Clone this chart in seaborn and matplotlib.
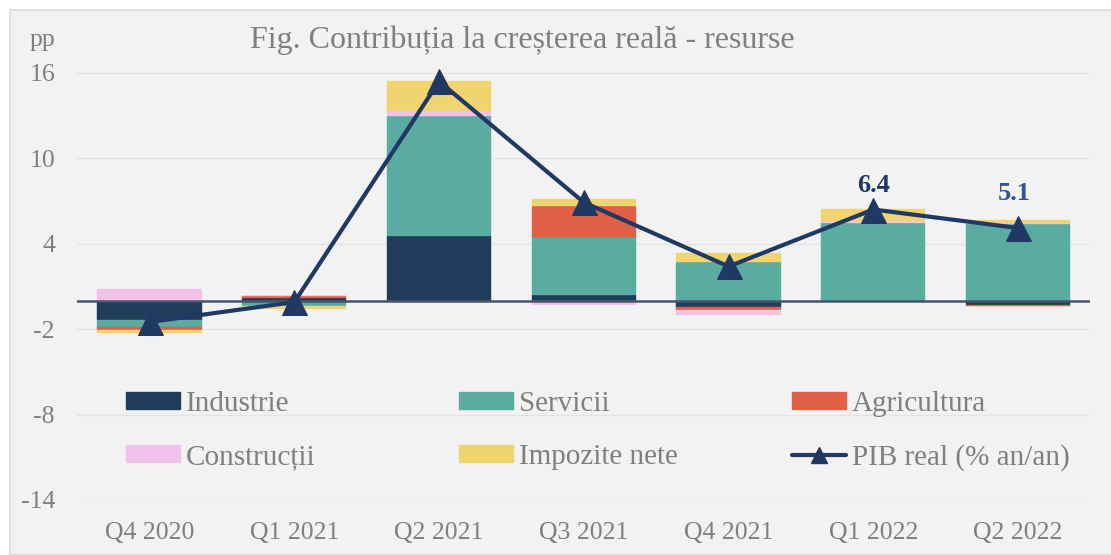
import numpy as np
import matplotlib
matplotlib.use("Agg")
import matplotlib.pyplot as plt
from matplotlib.patches import Patch, Rectangle
from matplotlib.lines import Line2D
import seaborn as sns

# Date (pp)
trimestre = ["Q4 2020", "Q1 2021", "Q2 2021", "Q3 2021", "Q4 2021", "Q1 2022", "Q2 2022"]
industrie = [-1.35, 0.2, 4.55, 0.4, -0.45, 0.0, -0.3]
servicii = [-0.5, -0.35, 8.4, 4.05, 2.7, 5.45, 5.35]
agricultura = [-0.2, 0.1, -0.05, 2.2, -0.2, 0.0, -0.05]
constructii = [0.85, 0.05, 0.35, -0.3, -0.35, 0.15, 0.07]
impozite = [-0.25, -0.25, 2.1, 0.5, 0.65, 0.85, 0.25]
pib = [-1.5, -0.1, 15.4, 6.9, 2.4, 6.4, 5.1]
yticks = [-14, -8, -2, 4, 10, 16]

serii = [
    ("Industrie", industrie, "#1f3d5a"),
    ("Servicii", servicii, "#5aaba0"),
    ("Agricultura", agricultura, "#e06045"),
    ("Construcții", constructii, "#f0c2ea"),
    ("Impozite nete", impozite, "#f0d470"),
]
culoare_pib = "#1f3864"
gri = "#7f7f7f"

sns.set_style("white")
plt.rcParams["font.family"] = ["Liberation Serif", "DejaVu Serif"]
plt.rcParams["axes.unicode_minus"] = False

fig = plt.figure(figsize=(11.11, 5.55), dpi=100, facecolor="white")
fig.patches.append(Rectangle((10 / 1111, 0), 1.0, 1 - 10 / 555, transform=fig.transFigure,
                             facecolor="#f2f2f2", edgecolor="#d9d9d9", lw=1.2, zorder=-5))
ax = fig.add_axes([0.0695, 0.0991, 0.912, 0.821])
ax.set_facecolor("#f2f2f2")

x = np.arange(len(trimestre))
poz = np.zeros(len(x))
neg = np.zeros(len(x))
for nume, vals, col in serii:
    v = np.array(vals)
    baza = np.where(v >= 0, poz, neg)
    ax.bar(x, v, width=0.72, bottom=baza, color=col, edgecolor=col, lw=0.3, zorder=2)
    poz = poz + np.where(v >= 0, v, 0)
    neg = neg + np.where(v < 0, v, 0)

ax.axhline(0, color="#44546a", lw=1.8, zorder=3)

sns.lineplot(x=x, y=pib, ax=ax, color=culoare_pib, lw=3, marker="^", markersize=18,
             markeredgecolor=culoare_pib, sort=False, zorder=4, clip_on=False)

ax.annotate(f"{pib[5]:.1f}", (x[5], pib[5]), xytext=(0, 17), textcoords="offset points",
            ha="center", va="center", fontsize=19, fontweight="bold", color=culoare_pib)
ax.annotate(f"{pib[6]:.1f}", (x[6], pib[6]), xytext=(-3, 25), textcoords="offset points",
            ha="center", va="center", fontsize=19, fontweight="bold", color="#2f5597",
            arrowprops=dict(arrowstyle="-", color="#a6a6a6", lw=1, shrinkA=10, shrinkB=4))

ax.set_xlim(-0.5, 6.5)
ax.set_ylim(-14, 18)
ax.set_yticks(yticks)
ax.set_xticks(x)
ax.set_xticklabels(trimestre)
ax.tick_params(axis="y", length=0, pad=16, labelsize=18.5, labelcolor=gri)
ax.tick_params(axis="x", length=0, pad=16, labelsize=18.5, labelcolor=gri)
ax.grid(axis="y", color="#e4e4e4", lw=1, zorder=0)
ax.set_axisbelow(True)
for s in ax.spines.values():
    s.set_visible(False)

fig.text(30 / 1111, 1 - 40 / 555, "pp", fontsize=18.5, color=gri, va="center", ha="left")
fig.text(250 / 1111, 1 - 40 / 555, "Fig. Contribuția la creșterea reală - resurse",
         fontsize=23, color=gri, va="center", ha="left")

# Legenda pe trei coloane
h = [Patch(color=c) for _, _, c in serii]
h.append(Line2D([], [], color=culoare_pib, lw=3, marker="^", markersize=11))
etichete = [n for n, _, _ in serii] + ["PIB real (% an/an)"]
coloane = [(0, 3), (1, 4), (2, 5)]
pozx = [126, 459, 792]
for (i, j), px in zip(coloane, pozx):
    leg = fig.legend([h[i], h[j]], [etichete[i], etichete[j]], loc="upper left",
                     bbox_to_anchor=(px / 1111, 1 - 391 / 555), frameon=False,
                     fontsize=21, labelcolor=gri, borderpad=0, borderaxespad=0,
                     handlelength=1.85, handleheight=0.52, handletextpad=0.2,
                     labelspacing=0.93)

fig.savefig("out.png", dpi=100, facecolor=fig.get_facecolor())
